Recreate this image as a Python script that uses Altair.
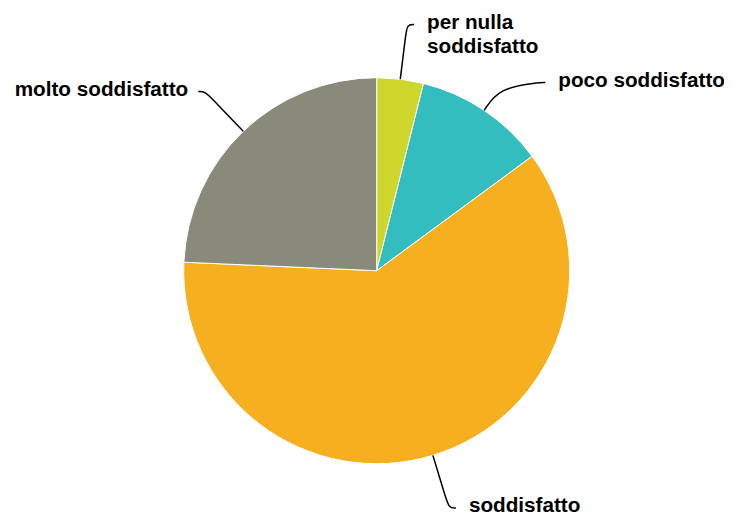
import math
import altair as alt
import pandas as pd

# ---- data ----
categories = ["per nulla soddisfatto", "poco soddisfatto", "soddisfatto", "molto soddisfatto"]
label_texts = ["per nulla\nsoddisfatto", "poco soddisfatto", "soddisfatto", "molto soddisfatto"]
values = [3.9, 11.0, 60.8, 24.3]
colors = ["#cfd62b", "#33bdbf", "#f6af1e", "#898a79"]

# ---- layout ----
W, H = 716, 505
CX, CY = 368.7, 262.7
R = 193
LABEL_R = R + 55
LINE_H = 24
FONT = "Liberation Sans"
FS = 20.7
TEXT_DY = 4.5

total = sum(values)
pie_df = pd.DataFrame({"cat": categories, "value": values, "idx": list(range(len(values)))})

# label placement derived from slice angles
cum = 0.0
labels = []
for i, v in enumerate(values):
    mid = (cum + v / 2) / total * 2 * math.pi
    cum += v
    right = math.sin(mid) >= 0
    y = CY - LABEL_R * math.cos(mid)
    labels.append({"i": i, "mid": mid, "right": right, "y": y,
                   "lines": label_texts[i].count("\n") + 1})

# push labels down to avoid overlap on each side
for side in (True, False):
    side_labels = sorted([l for l in labels if l["right"] == side], key=lambda l: l["y"])
    prev = None
    for l in side_labels:
        if prev is not None:
            min_y = prev["y"] + prev["lines"] * LINE_H + 10
            if l["y"] < min_y:
                l["y"] = min_y
        prev = l

line_rows, text_rows = [], []
for l in labels:
    th, y = l["mid"], l["y"]
    s = 1 if l["right"] else -1
    ex, ey = CX + R * math.sin(th), CY - R * math.cos(th)
    ry = abs((CY - y) / math.cos(th)) if abs(math.cos(th)) > 1e-6 else LABEL_R
    rb = R + 0.8 * (min(ry, LABEL_R) - R)
    bx, by = CX + rb * math.sin(th), CY - rb * math.cos(th)
    dy = y - CY
    kx = CX + s * math.sqrt(max(LABEL_R ** 2 - dy ** 2, 0))
    endx = kx + s * 7
    pts = [(ex, ey), (bx, by), (kx, y), (endx, y)]
    for k, (px, py) in enumerate(pts):
        line_rows.append({"cat": categories[l["i"]], "k": k, "x": px, "y": py})
    text_rows.append({"cat": categories[l["i"]], "label": label_texts[l["i"]],
                      "x": endx + (13 if l["right"] else -10), "y": y + TEXT_DY,
                      "align": "left" if l["right"] else "right"})

line_df = pd.DataFrame(line_rows)
text_df = pd.DataFrame(text_rows)

xs = alt.Scale(domain=[0, W], range=[0, W], nice=False, zero=False)
ys = alt.Scale(domain=[0, H], range=[0, H], nice=False, zero=False)

pie = alt.Chart(pie_df).mark_arc(radius=R, stroke="white", strokeWidth=1).encode(
    theta=alt.Theta("value:Q", stack=True),
    order=alt.Order("idx:Q"),
    color=alt.Color("cat:N", scale=alt.Scale(domain=categories, range=colors), legend=None),
    x=alt.value(CX),
    y=alt.value(CY),
)

lines = alt.Chart(line_df).mark_line(color="black", strokeWidth=1.5, interpolate="basis").encode(
    x=alt.X("x:Q", scale=xs, axis=None),
    y=alt.Y("y:Q", scale=ys, axis=None),
    detail="cat:N",
    order="k:Q",
)

text_right = alt.Chart(text_df[text_df["align"] == "left"]).mark_text(
    align="left", baseline="alphabetic", font=FONT, fontSize=FS, fontWeight="bold",
    color="black", lineBreak="\n", lineHeight=LINE_H,
).encode(x=alt.X("x:Q", scale=xs, axis=None), y=alt.Y("y:Q", scale=ys, axis=None), text="label:N")

text_left = alt.Chart(text_df[text_df["align"] == "right"]).mark_text(
    align="right", baseline="alphabetic", font=FONT, fontSize=FS, fontWeight="bold",
    color="black", lineBreak="\n", lineHeight=LINE_H,
).encode(x=alt.X("x:Q", scale=xs, axis=None), y=alt.Y("y:Q", scale=ys, axis=None), text="label:N")

chart = alt.layer(pie, lines, text_right, text_left).properties(
    width=W, height=H, padding=0, background="white",
    autosize=alt.AutoSizeParams(type="none"),
).configure_view(strokeWidth=0, stroke="transparent")

chart.save("out.html", embed_options={"renderer": "svg", "actions": False})
